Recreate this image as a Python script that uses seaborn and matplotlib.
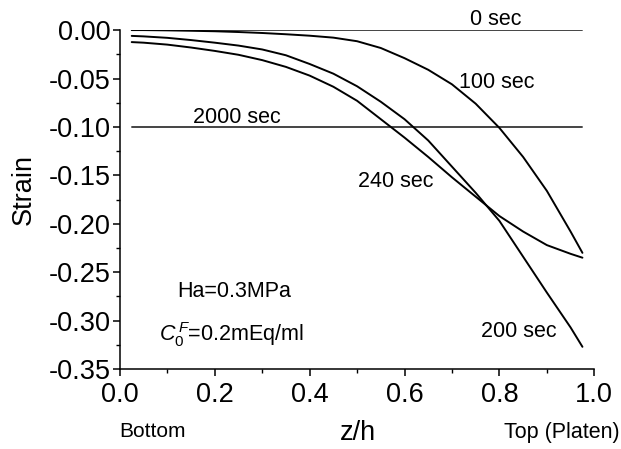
import matplotlib
matplotlib.use("Agg")
import pandas as pd
import matplotlib.pyplot as plt
import matplotlib.ticker as mticker
import seaborn as sns

# ── Data ───────────────────────────────────────────────
z_pos = [0.025, 0.05, 0.10, 0.15, 0.20, 0.25, 0.30, 0.35, 0.40, 0.45, 0.50,
         0.55, 0.60, 0.65, 0.70, 0.75, 0.80, 0.85, 0.90, 0.95, 0.975]
strain_100 = [0.0, 0.0, -0.0003, -0.0007, -0.0012, -0.002, -0.003, -0.0043,
              -0.0058, -0.0078, -0.0115, -0.0185, -0.029, -0.041, -0.056,
              -0.076, -0.101, -0.131, -0.166, -0.208, -0.230]
strain_200 = [-0.006, -0.0065, -0.008, -0.0103, -0.013, -0.016, -0.020,
              -0.026, -0.035, -0.045, -0.058, -0.074, -0.092, -0.114, -0.141,
              -0.168, -0.197, -0.234, -0.271, -0.307, -0.327]
strain_240 = [-0.0124, -0.013, -0.015, -0.018, -0.0215, -0.0255, -0.031,
              -0.038, -0.047, -0.0585, -0.073, -0.092, -0.111, -0.131, -0.152,
              -0.172, -0.192, -0.208, -0.222, -0.231, -0.235]
z_flat = [0.025, 0.975]
strain_0 = [0.0, 0.0]
strain_2000 = [-0.10, -0.10]

curve_labels = ["100 sec", "200 sec", "240 sec"]
flat_labels = ["0 sec", "2000 sec"]

curves = pd.concat([
    pd.DataFrame({"z": z_pos, "strain": s, "time": lab})
    for lab, s in zip(curve_labels, [strain_100, strain_200, strain_240])
])
flats = pd.concat([
    pd.DataFrame({"z": z_flat, "strain": s, "time": lab})
    for lab, s in zip(flat_labels, [strain_0, strain_2000])
])

# ── Style ──────────────────────────────────────────────
sns.set_theme(style="ticks")
plt.rcParams.update({
    "font.family": ["Liberation Sans", "DejaVu Sans"],
    "mathtext.fontset": "custom",
    "mathtext.rm": "Liberation Sans",
    "mathtext.it": "Liberation Sans:italic",
    "axes.linewidth": 1.1,
    "axes.edgecolor": "black",
    "axes.labelcolor": "black",
    "xtick.color": "black",
    "ytick.color": "black",
    "text.color": "black",
})

fig = plt.figure(figsize=(6.21, 4.49), dpi=100)
ax = fig.add_axes([0.193, 0.178, 0.764, 0.755])

sns.lineplot(data=flats, x="z", y="strain", units="time", estimator=None,
             color="#444444", linewidth=1.4, ax=ax, legend=False)
sns.lineplot(data=curves, x="z", y="strain", units="time", estimator=None,
             sort=False, color="black", linewidth=1.4, ax=ax, legend=False)

ax.set_xlim(0, 1.0)
ax.set_ylim(-0.35, 0.0)
ax.xaxis.set_major_locator(mticker.MultipleLocator(0.2))
ax.xaxis.set_minor_locator(mticker.MultipleLocator(0.1))
ax.yaxis.set_major_locator(mticker.MultipleLocator(0.05))
ax.yaxis.set_minor_locator(mticker.MultipleLocator(0.025))
ax.xaxis.set_major_formatter(mticker.FormatStrFormatter("%.1f"))
ax.yaxis.set_major_formatter(mticker.FormatStrFormatter("%.2f"))
ax.tick_params(which="major", direction="out", length=5, width=1.1,
               labelsize=19.5)
ax.tick_params(axis="x", which="major", pad=4)
ax.tick_params(axis="y", which="major", pad=1.5)
ax.tick_params(which="minor", direction="out", length=3, width=1)
sns.despine(ax=ax)

ax.set_xlabel("")
ax.set_ylabel("Strain", fontsize=19.5)
ax.yaxis.set_label_coords(-0.176, 0.53)

# ── Curve labels ──────────────────────────────────────
fs = 15.5
ax.text(0.793, 0.011, "0 sec", fontsize=fs, ha="center", va="center")
ax.text(0.794, -0.054, "100 sec", fontsize=fs, ha="center", va="center")
ax.text(0.247, -0.090, "2000 sec", fontsize=fs, ha="center", va="center")
ax.text(0.582, -0.156, "240 sec", fontsize=fs, ha="center", va="center")
ax.text(0.841, -0.3115, "200 sec", fontsize=fs, ha="center", va="center")
ax.text(0.240, -0.270, "Ha=0.3MPa", fontsize=fs, ha="center", va="center")
ax.text(0.235, -0.314, r"$C_0^{\,F}$=0.2mEq/ml", fontsize=fs,
        ha="center", va="center")

# ── Axis-end labels ───────────────────────────────────
fig.text(0.192, 0.040, "Bottom", fontsize=15, ha="left", va="center")
fig.text(0.577, 0.036, "z/h", fontsize=19.5, ha="center", va="center")
fig.text(0.998, 0.036, "Top (Platen)", fontsize=15.5, ha="right", va="center")

fig.savefig("out.png", dpi=100)
plt.close(fig)
